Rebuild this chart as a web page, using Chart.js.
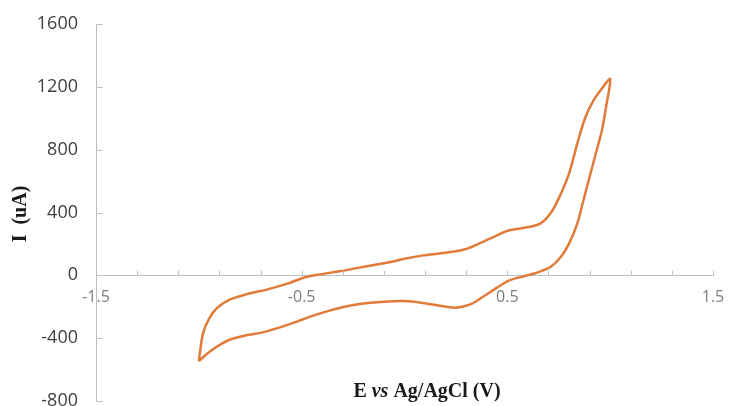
<!DOCTYPE html>
<html>
<head>
<meta charset="utf-8">
<title>Cyclic voltammogram</title>
<script src="https://cdn.jsdelivr.net/npm/chart.js@4.4.0/dist/chart.umd.min.js"></script>
<style>
    html, body { margin: 0; padding: 0; background: #ffffff; }
    #wrap { width: 729px; height: 406px; }
</style>
</head>
<body>
<div id="wrap"><canvas id="cv" width="729" height="406"></canvas></div>
<script>
// potential (V vs Ag/AgCl), anodic sweep from -1.0 V to +1.0 V then back
const potential = [
    -1.00, -0.98, -0.95, -0.91, -0.85, -0.77, -0.67, -0.57, -0.49, -0.41,
    -0.31, -0.22, -0.12, -0.05, 0.00, 0.09, 0.19, 0.29, 0.37, 0.45,
    0.51, 0.59, 0.66, 0.71, 0.75, 0.80, 0.84, 0.88, 0.92, 0.96,
    1.00,
    0.98, 0.96, 0.93, 0.90, 0.87, 0.84, 0.80, 0.76, 0.71, 0.67,
    0.64, 0.58, 0.51, 0.45, 0.38, 0.32, 0.25, 0.19, 0.09, 0.00,
    -0.10, -0.20, -0.28, -0.36, -0.44, -0.52, -0.61, -0.69, -0.77, -0.85,
    -0.91, -0.96, -1.00
];
// current (uA)
const current = [
    -546, -371, -276, -206, -155, -121, -91, -53, -15, 6,
    27, 49, 72, 90, 106, 127, 142, 164, 206, 255,
    287, 304, 329, 395, 490, 648, 839, 1008, 1115, 1189,
    1250,
    1072, 924, 775, 626, 478, 329, 202, 117, 53, 30,
    15, -6, -32, -78, -138, -185, -206, -197, -176, -164,
    -168, -180, -197, -223, -255, -293, -333, -363, -382, -410,
    -452, -499, -546
];

const xTicks = [-1.5, -1.3, -1.1, -0.9, -0.7, -0.5, -0.3, -0.1, 0.1, 0.3, 0.5, 0.7, 0.9, 1.1, 1.3, 1.5];
const xLabels = ['-1.5', '-0.5', '0.5', '1.5'];
const yTicks = [-800, -400, 0, 400, 800, 1200, 1600];

const axisColor = '#bfbfbf';
const titleFont = 'bold 20px "Liberation Serif"';

// small inside tick marks + Excel-like axis titles
const decorations = {
    id: 'decorations',
    afterDraw(chart) {
        const ctx = chart.ctx;
        const xs = chart.scales.x;
        const ys = chart.scales.y;
        const y0 = Math.round(ys.getPixelForValue(0)) + 0.5;
        const xl = Math.round(chart.chartArea.left) + 0.5;

        ctx.save();
        ctx.strokeStyle = axisColor;
        ctx.lineWidth = 1;
        ctx.beginPath();
        xTicks.forEach(v => {
            const px = Math.round(xs.getPixelForValue(v)) + 0.5;
            ctx.moveTo(px, y0);
            ctx.lineTo(px, y0 - 5);
        });
        yTicks.forEach(v => {
            const py = Math.round(ys.getPixelForValue(v)) + 0.5;
            ctx.moveTo(xl, py);
            ctx.lineTo(xl + 6, py);
        });
        ctx.stroke();

        // x title with italic "vs"
        ctx.fillStyle = '#1a1a1a';
        ctx.textBaseline = 'alphabetic';
        const parts = [
            ['E ', titleFont],
            ['vs', 'italic ' + titleFont],
            [' Ag/AgCl (V)', titleFont]
        ];
        let total = 0;
        parts.forEach(p => { ctx.font = p[1]; total += ctx.measureText(p[0]).width; });
        let x = 427 - total / 2;
        parts.forEach(p => {
            ctx.font = p[1];
            ctx.textAlign = 'left';
            ctx.fillText(p[0], x, 397);
            x += ctx.measureText(p[0]).width;
        });

        // y title
        ctx.translate(26, 214);
        ctx.rotate(-Math.PI / 2);
        ctx.textAlign = 'center';
        ctx.font = titleFont;
        ctx.fillText('I  (uA)', 0, 0);
        ctx.restore();
    }
};

const points = potential.map((e, i) => ({ x: e, y: current[i] }));

new Chart(document.getElementById('cv'), {
    type: 'scatter',
    data: {
        datasets: [{
            data: points,
            showLine: true,
            borderColor: '#e07b39',
            borderWidth: 2.5,
            pointRadius: 0,
            tension: 0.3,
            fill: false
        }]
    },
    options: {
        responsive: false,
        animation: false,
        layout: { padding: { top: 24, right: 16, bottom: 5, left: 0 } },
        plugins: {
            legend: { display: false },
            tooltip: { enabled: false }
        },
        scales: {
            x: {
                type: 'linear',
                min: -1.5,
                max: 1.5,
                position: { y: 0 },
                afterBuildTicks: (scale) => {
                    scale.ticks = xTicks.map(v => ({ value: v }));
                },
                afterFit: (scale) => {
                    scale.paddingLeft = 0;
                    scale.paddingRight = 0;
                    scale.paddingTop = 0;
                    scale.paddingBottom = 0;
                },
                grid: { display: false, drawTicks: false },
                border: { display: true, color: axisColor, width: 1 },
                ticks: {
                    autoSkip: false,
                    maxRotation: 0,
                    padding: 13,
                    color: '#7f7f7f',
                    font: { family: 'Open Sans', size: 16 },
                    callback: (v) => {
                        const s = (Math.round(v * 10) / 10).toString();
                        return xLabels.includes(s) ? s : '';
                    }
                }
            },
            y: {
                type: 'linear',
                min: -800,
                max: 1600,
                afterBuildTicks: (scale) => {
                    scale.ticks = yTicks.map(v => ({ value: v }));
                },
                afterFit: (scale) => {
                    scale.width = 96;
                    scale.paddingTop = 0;
                    scale.paddingBottom = 0;
                },
                grid: { display: false, drawTicks: false },
                border: { display: true, color: axisColor, width: 1 },
                ticks: {
                    padding: 18,
                    color: '#404040',
                    font: { family: 'Open Sans', size: 18 },
                    callback: (v) => String(v)
                }
            }
        }
    },
    plugins: [decorations]
});
</script>
</body>
</html>
